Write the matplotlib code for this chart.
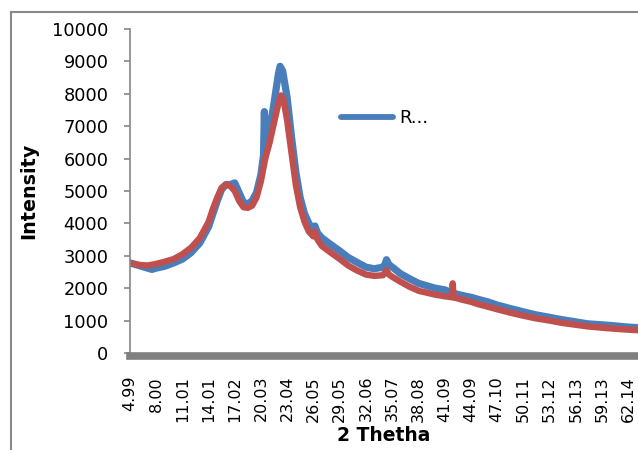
import matplotlib
matplotlib.use("Agg")
import matplotlib.pyplot as plt
from matplotlib.lines import Line2D

# 2 theta positions and intensities
blue_x = [4.99, 6.0, 7.0, 7.5, 8.0, 9.0, 10.0, 11.01, 12.0, 13.0, 14.01, 14.5, 15.0,
          15.5, 16.0, 16.5, 17.0, 17.5, 18.0, 18.5, 19.0, 19.5, 20.0, 20.3, 20.4,
          20.5, 21.0, 21.5, 22.0, 22.2, 22.5, 23.0, 23.5, 24.0, 24.5, 25.0, 25.5,
          26.0, 26.2, 26.5, 27.0, 28.0, 29.05, 30.0, 31.0, 32.06, 33.0, 34.0, 34.2,
          34.4, 34.7, 35.07, 36.0, 37.0, 38.08, 40.0, 41.09, 42.0, 43.0, 44.09,
          45.0, 46.0, 47.1, 48.5, 50.11, 51.5, 53.12, 54.5, 56.13, 57.5, 59.13,
          60.5, 62.14, 63.4]
blue_y = [2780, 2700, 2620, 2580, 2620, 2680, 2780, 2900, 3100, 3400, 3900, 4300, 4700,
          5050, 5200, 5200, 5250, 4950, 4650, 4600, 4700, 4950, 5500, 6100, 7450,
          6300, 6900, 7700, 8600, 8850, 8700, 7900, 6700, 5600, 4800, 4300, 4000,
          3800, 3920, 3700, 3550, 3350, 3150, 2950, 2800, 2650, 2600, 2650, 2700,
          2880, 2720, 2650, 2450, 2300, 2150, 2000, 1950, 1850, 1780, 1720,
          1650, 1580, 1480, 1380, 1270, 1180, 1100, 1030, 960, 900, 870,
          840, 800, 780]

red_x = [4.99, 6.0, 7.0, 8.0, 9.0, 10.0, 11.01, 12.0, 13.0, 14.01, 14.5, 15.0, 15.5,
         16.0, 16.5, 17.0, 17.5, 18.0, 18.5, 19.0, 19.5, 20.0, 20.5, 21.0, 21.5,
         22.0, 22.3, 22.6, 23.0, 23.5, 24.0, 24.5, 25.0, 25.5, 26.0, 26.2, 26.5,
         27.0, 28.0, 29.05, 30.0, 31.0, 32.06, 33.0, 34.0, 34.4, 34.7, 35.07, 36.0,
         37.0, 38.08, 40.0, 41.09, 41.95, 42.0, 42.1, 43.0, 44.09, 45.0, 46.0,
         47.1, 48.5, 50.11, 51.5, 53.12, 54.5, 56.13, 57.5, 59.13, 60.5, 62.14, 63.4]
red_y = [2780, 2720, 2700, 2750, 2820, 2900, 3050, 3250, 3550, 4050, 4450, 4800, 5100,
         5200, 5150, 5000, 4700, 4500, 4480, 4550, 4800, 5300, 6000, 6500, 7100,
         7700, 7950, 7800, 7200, 6200, 5200, 4500, 4050, 3750, 3600, 3750, 3500,
         3300, 3100, 2900, 2700, 2550, 2420, 2380, 2400, 2550, 2420, 2350, 2200,
         2050, 1920, 1800, 1750, 1720, 2150, 1720, 1650, 1580, 1500, 1430,
         1350, 1250, 1150, 1070, 1000, 930, 870, 820, 780, 750, 720, 700]

tick_labels = ["4.99", "8.00", "11.01", "14.01", "17.02", "20.03", "23.04", "26.05",
               "29.05", "32.06", "35.07", "38.08", "41.09", "44.09", "47.10", "50.11",
               "53.12", "56.13", "59.13", "62.14"]
y_ticks = list(range(0, 10001, 1000))

W, H = 638, 450
fig = plt.figure(figsize=(W / 100, H / 100), dpi=100)

# plot area runs off the right edge of the picture, as in the original
left = 130 / W
ax = fig.add_axes([left, (H - 353) / H, 1 - left, (353 - 29) / H])

blue_line, = ax.plot(blue_x, blue_y, color="#4A7EBB", lw=5.2, solid_capstyle="round",
                     solid_joinstyle="round", label="R...")
ax.plot(red_x, red_y, color="#C0504D", lw=4.6, solid_capstyle="round",
        solid_joinstyle="round")

ax.set_xlim(4.99, 4.99 + (W - 130) / 8.72)
ax.set_ylim(0, 10000)
ax.set_yticks(y_ticks)
ax.set_xticks([float(t) for t in tick_labels])
ax.set_xticklabels(tick_labels)

for side in ("top", "right"):
    ax.spines[side].set_visible(False)
ax.spines["left"].set_color("#868686")
ax.spines["left"].set_linewidth(1.2)
ax.spines["bottom"].set_color("#808080")
ax.spines["bottom"].set_linewidth(5.5)
ax.spines["bottom"].set_position(("outward", 2.5))

ax.tick_params(axis="y", direction="out", length=4.5, width=1.2, color="#868686",
               labelsize=12.8, pad=11)
ax.tick_params(axis="x", length=0, labelsize=11.5, pad=14, labelrotation=90)

ax.set_ylabel("Intensity", fontsize=13.8, fontweight="bold", labelpad=10)
ax.set_xlabel("2 Thetha", fontsize=13.5, fontweight="bold", labelpad=3)

legend_handle = Line2D([], [], color="#4A7EBB", lw=4.2, solid_capstyle="round")
ax.legend([legend_handle], ["R..."], loc="center left", frameon=False,
          bbox_to_anchor=(341 / W, 1 - 118 / H), bbox_transform=fig.transFigure,
          borderpad=0, borderaxespad=0, handlelength=2.9, handletextpad=0.3,
          fontsize=13)

# outer chart border (left and top edges only are in view)
fig.add_artist(Line2D([11 / W, 11 / W], [0, 1 - 12 / H], transform=fig.transFigure,
                      color="#898989", lw=1.5, zorder=10))
fig.add_artist(Line2D([11 / W, 1], [1 - 12 / H, 1 - 12 / H], transform=fig.transFigure,
                      color="#898989", lw=1.5, zorder=10))

fig.savefig("out.png", dpi=100)
